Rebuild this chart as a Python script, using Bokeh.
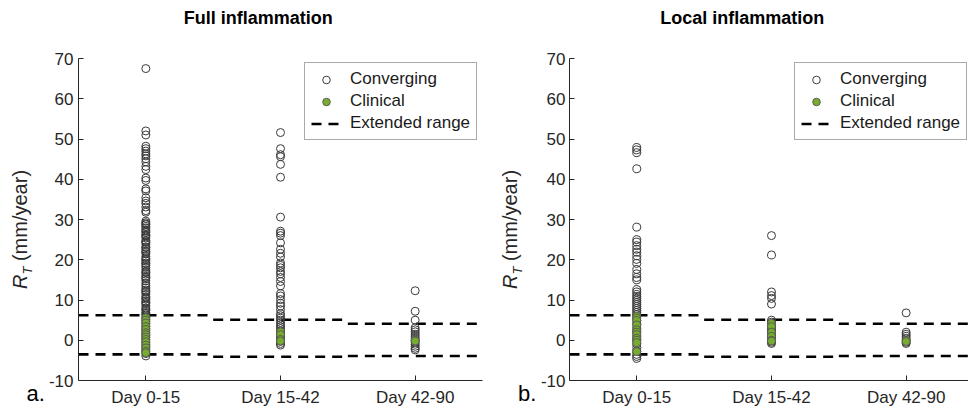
from bokeh.plotting import figure
from bokeh.layouts import row
from bokeh.models import (Range1d, FixedTicker, Legend, LegendItem, Label,
                          ColumnDataSource, Div)
from bokeh.embed import file_html
from bokeh.resources import INLINE

# ---------------- data ----------------
categories = ["Day 0-15", "Day 15-42", "Day 42-90"]
yticks = [-10, 0, 10, 20, 30, 40, 50, 60, 70]

# extended range (dashed) per category
range_upper = [6.2, 5.1, 4.1]
range_lower = [-3.5, -4.1, -3.9]

# Full inflammation
full_conv_d0 = [67.5, 52.0, 51.0, 48.2, 47.6, 47.0, 46.3, 45.8, 45.1, 44.3, 43.2, 42.4,
                40.3, 39.7, 37.6, 37.1, 35.4, 34.6, 34.0, 33.1, 32.2, 31.8, 29.6, 29.2,
                28.9, 28.7, 28.3, 27.9, 27.4, 27.1, 26.8, 26.3, 26.0, 25.9, 25.4, 24.8,
                24.5, 24.3, 23.9, 23.2, 23.0, 22.6, 22.1, 21.9, 21.5, 20.8, 20.3, 20.0,
                19.7, 19.2, 19.0, 18.6, 18.1, 17.5, 17.0, 16.8, 16.4, 15.9, 15.6, 15.3,
                14.8, 14.1, 13.6, 13.0, 12.5, 12.2, 11.9, 11.4, 10.8, 10.5, 10.2, 9.7,
                9.4, 9.1, 8.6, 8.0, 7.7, 7.4, 6.9, 6.6, 6.3, 5.8, 5.2, 4.6, 4.1, 3.5,
                2.9, 2.4, 1.8, 1.2, 0.7, 0.1, -0.5, -1.0, -1.6, -2.2, -2.7, -3.3, -3.9]
full_clin_d0 = [5.6, 5.0, 4.3, 3.4, 2.7, 1.9, 1.4, 0.8, 0.2, -0.4, -1.2, -1.9, -2.7, -3.1]
full_conv_d1 = [51.6, 47.6, 46.1, 45.6, 43.7, 40.5, 30.6, 27.1, 26.6, 26.0, 24.2, 22.6,
                21.6, 20.7, 19.2, 18.6, 18.0, 17.1, 16.5, 15.6, 14.6, 13.5, 11.6, 11.0,
                10.1, 9.2, 8.5, 7.6, 6.6, 6.1, 5.5, 5.0, 4.4, 3.9, 3.4, 2.9, 2.3, 1.8,
                1.2, 0.7, 0.2, -0.3, -0.8, -1.2]
full_clin_d1 = [2.1, 1.4, 0.2, -0.2]
full_conv_d2 = [12.3, 7.2, 5.0, 3.1, 2.6, 2.1, 1.5, 1.0, 0.5, 0.0, -0.5, -1.0, -1.5,
                -2.0, -2.4]
full_clin_d2 = [0.0, -0.2]

# Local inflammation
local_conv_d0 = [47.9, 47.3, 46.6, 42.6, 28.1, 25.0, 24.4, 23.5, 22.6, 21.9, 21.0, 20.1,
                 19.1, 17.6, 16.5, 15.6, 15.0, 12.6, 12.0, 11.4, 10.9, 10.4, 9.9, 9.4,
                 8.9, 8.4, 7.9, 7.4, 6.9, 6.4, 5.9, 4.9, 4.0, 3.0, 2.1, 1.0, 0.1, -0.9,
                 -1.8, -2.7, -3.5, -4.0, -4.5]
local_clin_d0 = [6.0, 5.5, 4.9, 3.8, 2.6, 2.0, 1.4, 0.5, 0.0, -0.6, -2.8]
local_conv_d1 = [26.0, 21.2, 12.0, 11.1, 10.4, 9.0, 5.0, 4.5, 3.9, 3.4, 2.9, 2.4, 1.9,
                 1.4, 0.9, 0.4, -0.1, -0.5, -0.8]
local_clin_d1 = [4.2, 3.4, 2.0, 1.0, 0.0, -0.2]
local_conv_d2 = [6.8, 2.0, 1.5, 1.0, 0.5, 0.0, -0.5, -0.8]
local_clin_d2 = [0.0, -0.3]

FONT = "Liberation Sans"
TXT = "#262626"
GREEN = "#77AC30"
H = 411


def to_xy(groups):
    xs, ys = [], []
    for i, vals in enumerate(groups):
        xs += [i + 1] * len(vals)
        ys += list(vals)
    return xs, ys


def make_panel(title, conv, clin, width, x_end, border_left, border_right,
               standoff, legend_vx, title_x):
    p = figure(width=width, height=H, x_range=Range1d(0.5, x_end),
               y_range=Range1d(-10, 84.41), output_backend="svg",
               toolbar_location=None, min_border_left=border_left,
               min_border_right=border_right, min_border_top=0,
               min_border_bottom=31)
    p.outline_line_color = None
    p.grid.visible = False
    p.background_fill_color = "white"
    p.border_fill_color = "white"

    for ax in (p.xaxis[0], p.yaxis[0]):
        ax.axis_line_color = TXT
        ax.axis_line_width = 1
        ax.major_tick_line_color = TXT
        ax.major_tick_in = 5
        ax.major_tick_out = 0
        ax.minor_tick_line_color = None
        ax.major_label_text_font = FONT
        ax.major_label_text_font_size = "17px"
        ax.major_label_text_color = TXT
    p.xaxis.ticker = FixedTicker(ticks=[1, 2, 3])
    p.xaxis.major_label_overrides = {i + 1: c for i, c in enumerate(categories)}
    p.xaxis.major_label_standoff = 7
    p.yaxis.ticker = FixedTicker(ticks=yticks)
    p.yaxis.major_label_overrides = {t: str(t) for t in yticks}
    p.yaxis.major_label_standoff = standoff
    p.yaxis.bounds = (yticks[0], yticks[-1])

    # extended range dashed segments
    seg = ColumnDataSource(dict(
        x0=[i + 0.5 for i in range(3)] * 2,
        x1=[i + 1.5 for i in range(3)] * 2,
        y=range_upper + range_lower))
    r_rng = p.segment(x0="x0", y0="y", x1="x1", y1="y", source=seg,
                      line_color="black", line_width=2.6, line_dash="10 7")

    cx, cy = to_xy(conv)
    r_conv = p.scatter(cx, cy, size=8, marker="circle", fill_color=None,
                       line_color="#3a3a3a", line_width=1.0)
    gx, gy = to_xy(clin)
    r_clin = p.scatter(gx, gy, size=8, marker="circle", fill_color=GREEN,
                       line_color="#555555", line_width=0.9)

    legend = Legend(items=[LegendItem(label="Converging", renderers=[r_conv]),
                           LegendItem(label="Clinical", renderers=[r_clin]),
                           LegendItem(label="Extended range", renderers=[r_rng])],
                    location=(legend_vx, 240))
    legend.label_text_font = FONT
    legend.label_text_font_size = "17px"
    legend.label_text_color = "#1a1a1a"
    legend.glyph_width = 30
    legend.glyph_height = 19
    legend.label_height = 19
    legend.label_standoff = 9
    legend.spacing = 2
    legend.padding = 6
    legend.margin = 0
    legend.border_line_color = "#555555"
    legend.border_line_width = 1
    legend.background_fill_color = "white"
    legend.background_fill_alpha = 1
    p.add_layout(legend)

    p.add_layout(Label(x=title_x, y=79.94, text=title, text_font=FONT,
                       text_font_size="18px", text_font_style="bold",
                       text_color="black", text_align="center",
                       text_baseline="middle"))
    return p


def label_column(width, label_left, letter, letter_left):
    html = (
        f"<div style=\"position:relative;width:{width}px;height:{H}px;"
        f"font-family:'{FONT}';color:{TXT};\">"
        f"<div style=\"position:absolute;left:{label_left}px;top:289px;"
        "transform:rotate(-90deg);transform-origin:left top;white-space:nowrap;"
        "font-size:20px;line-height:20px;\">"
        "<i>R</i><sub style=\"font-size:13px;line-height:0;\"><i>T</i></sub>"
        " (mm/year)</div>"
        f"<div style=\"position:absolute;left:{letter_left}px;top:383.4px;"
        "font-size:22px;line-height:22px;color:black;white-space:nowrap;\">"
        f"{letter}</div></div>"
    )
    return Div(text=html, width=width, height=H, margin=(0, 0, 0, 0))


lab1 = label_column(45, 9.7, "a.", 26.5)
p1 = make_panel("Full inflammation",
                [full_conv_d0, full_conv_d1, full_conv_d2],
                [full_clin_d0, full_clin_d1, full_clin_d2],
                439, 3.5, 30, 2, 5, 226, 1.834)
lab2 = label_column(53, 16.0, "b.", 34)
p2 = make_panel("Local inflammation",
                [local_conv_d0, local_conv_d1, local_conv_d2],
                [local_clin_d0, local_clin_d1, local_clin_d2],
                431, 3.463, 29, 0, 4, 225, 1.783)

layout = row(lab1, p1, lab2, p2)
open("out.html", "w").write(file_html(layout, INLINE))
